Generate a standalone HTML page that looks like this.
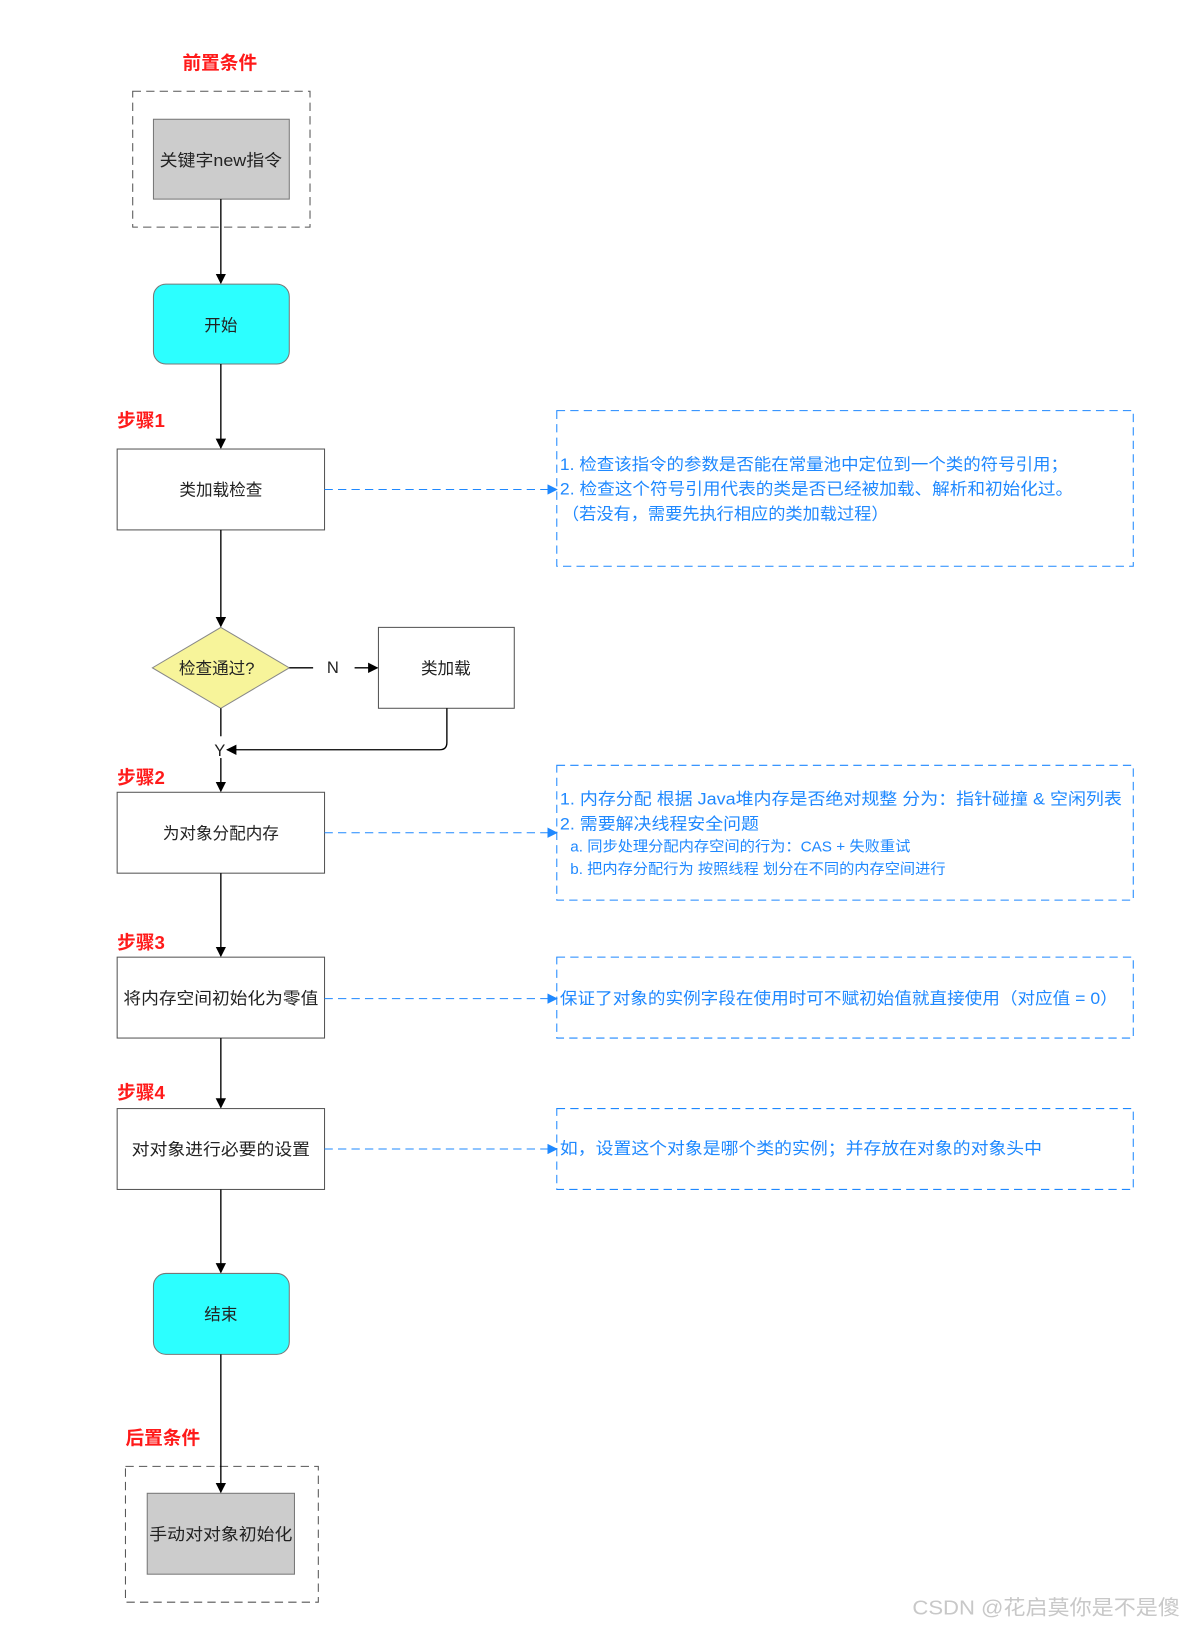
<!DOCTYPE html>
<html><head><meta charset="utf-8"><style>
html,body{margin:0;padding:0;background:#fff;}
svg{display:block;}
text{font-family:"Liberation Sans","Noto Sans CJK SC",sans-serif;}
</style></head><body>
<svg width="1182" height="1625" viewBox="0 0 1140 1567" preserveAspectRatio="none" xmlns="http://www.w3.org/2000/svg">
<defs>
<marker id="ab" markerWidth="10" markerHeight="10" refX="9" refY="5" orient="auto" markerUnits="userSpaceOnUse"><path d="M0,0 L10,5 L0,10 z" fill="#000"/></marker>
<marker id="abl" markerWidth="10" markerHeight="10" refX="9" refY="5" orient="auto" markerUnits="userSpaceOnUse"><path d="M0,0 L10,5 L0,10 z" fill="#1e88ff"/></marker>
</defs>
<g font-size="18" font-weight="bold" fill="#ff1a1a">
<text x="212" y="67" text-anchor="middle">前置条件</text>
<text x="113" y="412">步骤1</text>
<text x="113" y="756">步骤2</text>
<text x="113" y="915">步骤3</text>
<text x="113" y="1060">步骤4</text>
<text x="157" y="1393" text-anchor="middle">后置条件</text>
</g>
<rect x="128" y="88" width="171" height="131" fill="none" stroke="#555" stroke-dasharray="8,5"/>
<rect x="148" y="115" width="131" height="77" fill="#cccccc" stroke="#777"/>
<text x="213" y="160" font-size="16" text-anchor="middle" fill="#222" textLength="118" lengthAdjust="spacingAndGlyphs">关键字new指令</text>
<line x1="213" y1="192" x2="213" y2="273" stroke="#000" stroke-width="1.3" marker-end="url(#ab)"/>
<rect x="148" y="274" width="131" height="77" rx="12" fill="#2cffff" stroke="#777"/>
<text x="213" y="319" font-size="16" text-anchor="middle" fill="#222">开始</text>
<line x1="213" y1="351" x2="213" y2="432" stroke="#000" stroke-width="1.3" marker-end="url(#ab)"/>
<rect x="113" y="433" width="200" height="78" fill="#fff" stroke="#555"/>
<text x="213" y="478" font-size="16" text-anchor="middle" fill="#222">类加载检查</text>
<line x1="313" y1="472" x2="537" y2="472" stroke="#1e88ff" stroke-dasharray="8,5" marker-end="url(#abl)"/>
<rect x="537" y="396" width="556" height="150" fill="none" stroke="#1e88ff" stroke-dasharray="8,5"/>
<g font-size="16" fill="#1e88ff">
<text x="540" y="453" textLength="490" lengthAdjust="spacingAndGlyphs">1. 检查该指令的参数是否能在常量池中定位到一个类的符号引用；</text>
<text x="540" y="477" textLength="495" lengthAdjust="spacingAndGlyphs">2. 检查这个符号引用代表的类是否已经被加载、解析和初始化过。</text>
<text x="542" y="501" textLength="315" lengthAdjust="spacingAndGlyphs">（若没有，需要先执行相应的类加载过程）</text>
</g>
<line x1="213" y1="511" x2="213" y2="604" stroke="#000" stroke-width="1.3" marker-end="url(#ab)"/>
<polygon points="213,605 279,644 213,683 147,644" fill="#f7f49a" stroke="#888"/>
<text x="209" y="650" font-size="16" text-anchor="middle" fill="#222">检查通过?</text>
<line x1="279" y1="644" x2="302" y2="644" stroke="#000" stroke-width="1.3"/>
<text x="321" y="649" font-size="16" text-anchor="middle" fill="#222">N</text>
<line x1="342" y1="644" x2="364" y2="644" stroke="#000" stroke-width="1.3" marker-end="url(#ab)"/>
<rect x="365" y="605" width="131" height="78" fill="#fff" stroke="#555"/>
<text x="430" y="650" font-size="16" text-anchor="middle" fill="#222">类加载</text>
<path d="M431,683 V716 Q431,723 424,723 H219" fill="none" stroke="#000" stroke-width="1.3" marker-end="url(#ab)"/>
<line x1="213" y1="683" x2="213" y2="710" stroke="#000" stroke-width="1.3"/>
<text x="212" y="729" font-size="16" text-anchor="middle" fill="#222">Y</text>
<line x1="213" y1="731" x2="213" y2="763" stroke="#000" stroke-width="1.3" marker-end="url(#ab)"/>
<rect x="113" y="764" width="200" height="78" fill="#fff" stroke="#555"/>
<text x="213" y="809" font-size="16" text-anchor="middle" fill="#222">为对象分配内存</text>
<line x1="313" y1="803" x2="537" y2="803" stroke="#1e88ff" stroke-dasharray="8,5" marker-end="url(#abl)"/>
<rect x="537" y="738" width="556" height="130" fill="none" stroke="#1e88ff" stroke-dasharray="8,5"/>
<g font-size="16" fill="#1e88ff">
<text x="540" y="776" textLength="542" lengthAdjust="spacingAndGlyphs">1. 内存分配 根据 Java堆内存是否绝对规整 分为：指针碰撞 &amp; 空闲列表</text>
<text x="540" y="800" textLength="192" lengthAdjust="spacingAndGlyphs">2. 需要解决线程安全问题</text>
<text x="550" y="821" font-size="14" textLength="328" lengthAdjust="spacingAndGlyphs">a. 同步处理分配内存空间的行为：CAS + 失败重试</text>
<text x="550" y="843" font-size="14" textLength="362" lengthAdjust="spacingAndGlyphs">b. 把内存分配行为 按照线程 划分在不同的内存空间进行</text>
</g>
<line x1="213" y1="842" x2="213" y2="922" stroke="#000" stroke-width="1.3" marker-end="url(#ab)"/>
<rect x="113" y="923" width="200" height="78" fill="#fff" stroke="#555"/>
<text x="213" y="968" font-size="16" text-anchor="middle" fill="#222" textLength="188" lengthAdjust="spacingAndGlyphs">将内存空间初始化为零值</text>
<line x1="313" y1="963" x2="537" y2="963" stroke="#1e88ff" stroke-dasharray="8,5" marker-end="url(#abl)"/>
<rect x="537" y="923" width="556" height="78" fill="none" stroke="#1e88ff" stroke-dasharray="8,5"/>
<text x="540" y="968" font-size="16" fill="#1e88ff" textLength="538" lengthAdjust="spacingAndGlyphs">保证了对象的实例字段在使用时可不赋初始值就直接使用（对应值 = 0）</text>
<line x1="213" y1="1001" x2="213" y2="1068" stroke="#000" stroke-width="1.3" marker-end="url(#ab)"/>
<rect x="113" y="1069" width="200" height="78" fill="#fff" stroke="#555"/>
<text x="213" y="1114" font-size="16" text-anchor="middle" fill="#222" textLength="172" lengthAdjust="spacingAndGlyphs">对对象进行必要的设置</text>
<line x1="313" y1="1108" x2="537" y2="1108" stroke="#1e88ff" stroke-dasharray="8,5" marker-end="url(#abl)"/>
<rect x="537" y="1069" width="556" height="78" fill="none" stroke="#1e88ff" stroke-dasharray="8,5"/>
<text x="540" y="1113" font-size="16" fill="#1e88ff" textLength="465" lengthAdjust="spacingAndGlyphs">如，设置这个对象是哪个类的实例；并存放在对象的对象头中</text>
<line x1="213" y1="1147" x2="213" y2="1227" stroke="#000" stroke-width="1.3" marker-end="url(#ab)"/>
<rect x="148" y="1228" width="131" height="78" rx="12" fill="#2cffff" stroke="#777"/>
<text x="213" y="1273" font-size="16" text-anchor="middle" fill="#222">结束</text>
<rect x="121" y="1414" width="186" height="131" fill="none" stroke="#555" stroke-dasharray="8,5"/>
<rect x="142" y="1440" width="142" height="78" fill="#cccccc" stroke="#777"/>
<line x1="213" y1="1306" x2="213" y2="1439" stroke="#000" stroke-width="1.3" marker-end="url(#ab)"/>
<text x="213" y="1485" font-size="16" text-anchor="middle" fill="#222" textLength="138" lengthAdjust="spacingAndGlyphs">手动对对象初始化</text>
<text x="1138" y="1557" font-size="20" text-anchor="end" fill="#c8c8c8" textLength="258" lengthAdjust="spacingAndGlyphs">CSDN @花启莫你是不是傻</text>
</svg>
</body></html>
